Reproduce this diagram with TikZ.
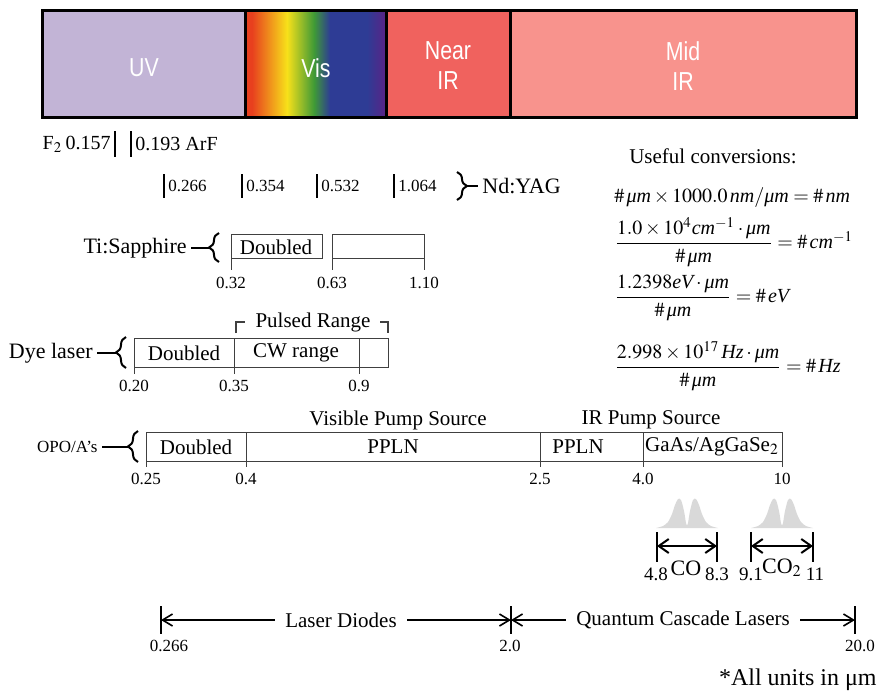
\documentclass[tikz,border=0pt]{standalone}
\usepackage{amsmath}
\usepackage{mathptmx}
\usepackage{fontspec}
\setmainfont{Liberation Serif}
\newfontfamily\barfont[FakeStretch=0.82]{Liberation Sans}
\usetikzlibrary{arrows.meta,decorations.pathreplacing}

\definecolor{uvcol}{HTML}{C2B4D6}
\definecolor{nircol}{HTML}{F0625E}
\definecolor{mircol}{HTML}{F8938D}
\definecolor{vred}{HTML}{E8401E}
\definecolor{vyel}{HTML}{F7E11A}
\definecolor{vgrn}{HTML}{3F9A36}
\definecolor{vblu}{HTML}{2E3C95}
\definecolor{vvio}{HTML}{5A2386}

\begin{document}
\begin{tikzpicture}[x=0.5pt,y=-0.5pt,
    band/.style={draw=black,line width=1.5pt},
    bandtext/.style={font=\barfont\fontsize{13}{15}\selectfont,text=white,align=center},
    rng/.style={draw=black!75,line width=0.5pt},
    lab/.style={font=\fontsize{10.5}{12}\selectfont,inner sep=0pt},
    side/.style={font=\fontsize{11}{13}\selectfont,inner sep=0pt},
    num/.style={font=\fontsize{8.5}{10}\selectfont,inner sep=0pt},
    conv/.style={font=\fontsize{10}{12}\selectfont,inner sep=0pt,anchor=west},
    curly/.style={decorate,decoration={brace,amplitude=5pt},line width=1pt},
    tick/.style={line width=1pt},
    arr/.style={-{Straight Barb[length=5pt,width=6pt]},line width=0.8pt}]
  \useasboundingbox (0,0) rectangle (879,692);

  % spectral bands
  \fill[uvcol] (42,10) rectangle (245,117);
  \foreach \xa/\xb/\ca/\cb in {245/252/vred/vred, 252/287/vred/vyel,
      287/314/vyel/vgrn, 314/330/vgrn/vblu, 330/367/vblu/vblu, 367/386/vblu/vvio}
    \shade[left color=\ca,right color=\cb] (\xa,10) rectangle (\xb,117);
  \fill[nircol] (386,10) rectangle (510,117);
  \fill[mircol] (510,10) rectangle (856,117);
  \draw[band] (42,10) rectangle (856,117);
  \foreach \x in {245,386,510}
    \draw[band] (\x,10) -- (\x,117);
  \node[bandtext] (uv) at (144,68) {UV};
  \node[bandtext] (vis) at (316,68) {Vis};
  \node[bandtext] (nir) at (448,66) {Near\\IR};
  \node[bandtext] (mir) at (683,66) {Mid\\IR};

  % excimer lines
  \node[font=\fontsize{10}{12}\selectfont,inner sep=0pt,anchor=east] (f2) at (111,144) {F$_2$\,0.157};
  \node[font=\fontsize{10}{12}\selectfont,inner sep=0pt,anchor=west] (arf) at (135,144) {0.193 ArF};
  \draw[tick] (115,131) -- (115,157);
  \draw[tick] (131,131) -- (131,157);

  % Nd:YAG harmonics
  \foreach \x/\t in {164/0.266, 242/0.354, 317/0.532, 394/1.064} {
    \draw[tick] (\x,174) -- (\x,198);
    \node[num,anchor=west] (nd\t) at (\x+4,186) {\t};
  }
  \draw[curly] (457,172) -- (457,200);
  \coordinate (ndtip) at (467,186);
  \node[side,anchor=west] (ndyag) at (482,186) {Nd:YAG};
  \draw[tick,shorten >=2pt] (ndtip) -- (ndyag.west);

  % Ti:Sapphire
  \draw[rng] (231,234) rectangle (322,258);
  \draw[rng] (332,234) rectangle (424,258);
  \foreach \x in {231,332,424}
    \draw[rng] (\x,234) -- (\x,270);
  \node[lab] (tidbl) at (276,247) {Doubled};
  \foreach \x/\t in {231/0.32, 332/0.63, 424/1.10}
    \node[num] (ti\t) at (\x,283) {\t};
  \draw[curly] (219,262) -- (219,233);
  \coordinate (titip) at (209,248);
  \node[side,anchor=east] (tisa) at (187,248) {Ti:Sapphire};
  \draw[tick,shorten >=2pt] (titip) -- (tisa.east);

  % dye laser
  \draw[rng] (134,338) rectangle (388,367);
  \foreach \x in {134,234,359}
    \draw[rng] (\x,338) -- (\x,374);
  \node[lab] (dyedbl) at (184,353) {Doubled};
  \node[lab] (dyecw) at (296,353) {CW range};
  \foreach \x/\t in {134/0.20, 234/0.35, 359/0.9}
    \node[num] (dye\t) at (\x,386) {\t};
  \node[lab] (pulsed) at (313,322) {Pulsed Range};
  \draw[rng,line width=0.8pt] (236,333) -- (236,322) -- (245,322);
  \draw[rng,line width=0.8pt] (380,322) -- (388,322) -- (388,333);
  \draw[curly] (126,368) -- (126,337);
  \coordinate (dyetip) at (116,353);
  \node[side,anchor=east] (dye) at (93,353) {Dye laser};
  \draw[tick,shorten >=2pt] (dyetip) -- (dye.east);

  % OPO/OPA
  \node[lab] (vispump) at (398,420) {Visible Pump Source};
  \node[lab] (irpump) at (651,420) {IR Pump Source};
  \draw[rng] (146,432) rectangle (782,461);
  \foreach \x in {146,246,540,643,782}
    \draw[rng] (\x,432) -- (\x,467);
  \node[lab] (opodbl) at (196,447) {Doubled};
  \node[lab] (ppln1) at (393,447) {PPLN};
  \node[lab] (ppln2) at (578,447) {PPLN};
  \node[lab] (gaas) at (712,447) {GaAs/AgGaSe$_2$};
  \foreach \x/\t in {146/0.25, 246/0.4, 540/2.5, 643/4.0, 782/10}
    \node[num] (opo\t) at (\x,479) {\t};
  \draw[curly] (138,462) -- (138,431);
  \coordinate (opotip) at (128,447);
  \node[font=\fontsize{8.5}{10}\selectfont,inner sep=0pt,anchor=east] (opo) at (98,447) {OPO/A's};
  \draw[tick,shorten >=2pt] (opotip) -- (opo.east);

  % gas laser bands
  \foreach \cx in {687,782}
    \fill[gray!30] plot[smooth,tension=0.5] coordinates {({\cx-31},528) ({\cx-24},526)
      ({\cx-19},522) ({\cx-15},514) ({\cx-12},505) ({\cx-9},499) ({\cx-6},500)
      ({\cx-3},511) ({\cx-1},523) (\cx,525) ({\cx+1},523) ({\cx+3},511) ({\cx+6},500)
      ({\cx+9},499) ({\cx+12},505) ({\cx+15},514) ({\cx+19},522) ({\cx+24},526) ({\cx+31},528)} -- cycle;
  \foreach \xa/\xb/\g in {657/717/co, 751/813/cotwo} {
    \draw[line width=1.2pt] (\xa,532) -- (\xa,562);
    \draw[line width=1.2pt] (\xb,532) -- (\xb,562);
    \coordinate (\g l) at (\xa,546);
    \coordinate (\g r) at (\xb,546);
    \draw[{Straight Barb[length=5pt,width=7pt]}-{Straight Barb[length=5pt,width=7pt]},line width=1pt] (\g l) -- (\g r);
  }
  \node[font=\fontsize{9.5}{11}\selectfont,inner sep=0pt] (cofrom) at (656,574) {4.8};
  \node[side] (co) at (686,568) {CO};
  \node[font=\fontsize{9.5}{11}\selectfont,inner sep=0pt] (coto) at (717,574) {8.3};
  \node[font=\fontsize{9.5}{11}\selectfont,inner sep=0pt] (cotwofrom) at (751,574) {9.1};
  \node[side] (cotwo) at (782,568) {CO$_2$};
  \node[font=\fontsize{9.5}{11}\selectfont,inner sep=0pt] (cotwoto) at (815,574) {11};

  % semiconductor lasers
  \foreach \x in {161,511,855}
    \draw[line width=0.8pt] (\x,606) -- (\x,634);
  \coordinate (sc1) at (161,620);
  \coordinate (sc2) at (511,620);
  \coordinate (sc3) at (855,620);
  \node[font=\fontsize{10.5}{12}\selectfont,inner sep=5pt] (ld) at (341,620) {Laser Diodes};
  \node[font=\fontsize{10.5}{12}\selectfont,inner sep=5pt] (qcl) at (683,620) {Quantum Cascade Lasers};
  \draw[arr] (ld.west) -- (sc1);
  \draw[arr] (ld.east) -- (sc2);
  \draw[arr] (qcl.west) -- (sc2);
  \draw[arr] (qcl.east) -- (sc3);
  \node[num] (scfrom) at (169,646) {0.266};
  \node[num] (scmid) at (510,646) {2.0};
  \node[num] (scto) at (860,646) {20.0};
  \node[font=\fontsize{12}{14}\selectfont,inner sep=0pt,anchor=east] (units) at (877,680) {*All units in μm};

  % conversions
  \node[font=\fontsize{10.5}{12}\selectfont,inner sep=0pt] (useful) at (713,156) {Useful conversions:};
  \node[conv] (cnm) at (614,198) {$\#\,\textit{μm}\times1000.0\,\textit{nm}/\textit{μm} = \#\,\textit{nm}$};
  \node[conv] (ccm) at (614,242) {$\dfrac{1.0\times10^4\textit{cm}^{-1}\cdot\textit{μm}}{\#\,\textit{μm}} = \#\,\textit{cm}^{-1}$};
  \node[conv] (cev) at (614,298) {$\dfrac{1.2398\textit{eV}\cdot\textit{μm}}{\#\,\textit{μm}} = \#\,\textit{eV}$};
  \node[conv] (chz) at (614,366) {$\dfrac{2.998\times10^{17}\,\textit{Hz}\cdot\textit{μm}}{\#\,\textit{μm}} = \#\,\textit{Hz}$};
\end{tikzpicture}
\end{document}
